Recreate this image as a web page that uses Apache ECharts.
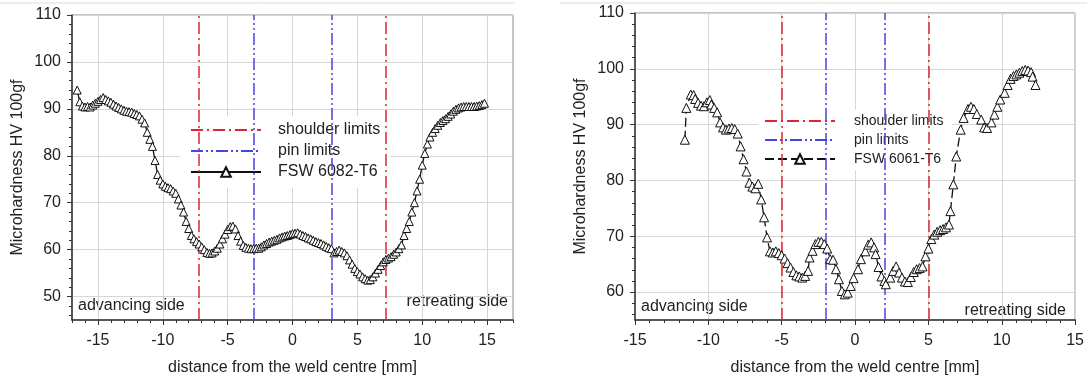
<!DOCTYPE html>
<html><head><meta charset="utf-8">
<script src="https://cdn.jsdelivr.net/npm/echarts@6/dist/echarts.min.js"></script>
<style>html,body{margin:0;padding:0;background:#fff}#c{width:1087px;height:381px}</style>
</head><body><div id="c"></div>
<script>
// ---- data ----
const xTicks = [-15, -10, -5, 0, 5, 10, 15];
const leftYTicks = [50, 60, 70, 80, 90, 100, 110];
const rightYTicks = [60, 70, 80, 90, 100, 110];
const leftShoulder = [-7.2, 7.2];
const leftPin = [-3, 3];
const rightShoulder = [-5, 5];
const rightPin = [-2, 2];
const leftName = 'FSW 6082-T6';
const rightName = 'FSW 6061-T6';
const leftDist = [-16.6,-16.4,-16.2,-16.0,-15.8,-15.6,-15.4,-15.2,-15.0,-14.8,-14.6,-14.4,-14.2,-14.0,-13.8,-13.6,-13.4,-13.2,-13.0,-12.8,-12.6,-12.4,-12.2,-12.0,-11.8,-11.6,-11.4,-11.2,-11.0,-10.8,-10.6,-10.4,-10.2,-10.0,-9.8,-9.6,-9.4,-9.2,-9.0,-8.8,-8.6,-8.4,-8.2,-8.0,-7.8,-7.6,-7.4,-7.2,-7.0,-6.8,-6.6,-6.4,-6.2,-6.0,-5.8,-5.6,-5.4,-5.2,-5.0,-4.8,-4.6,-4.4,-4.2,-4.0,-3.8,-3.6,-3.4,-3.2,-3.0,-2.8,-2.6,-2.4,-2.2,-2.0,-1.8,-1.6,-1.4,-1.2,-1.0,-0.8,-0.6,-0.4,-0.2,0.0,0.2,0.4,0.6,0.8,1.0,1.2,1.4,1.6,1.8,2.0,2.2,2.4,2.6,2.8,3.0,3.2,3.4,3.6,3.8,4.0,4.2,4.4,4.6,4.8,5.0,5.2,5.4,5.6,5.8,6.0,6.2,6.4,6.6,6.8,7.0,7.2,7.4,7.6,7.8,8.0,8.2,8.4,8.6,8.8,9.0,9.2,9.4,9.6,9.8,10.0,10.2,10.4,10.6,10.8,11.0,11.2,11.4,11.6,11.8,12.0,12.2,12.4,12.6,12.8,13.0,13.2,13.4,13.6,13.8,14.0,14.2,14.4,14.6,14.8];
const leftHV = [94.0,91.5,90.6,90.4,90.5,90.4,90.8,91.2,91.6,92.0,92.4,92.0,91.7,91.4,91.0,90.6,90.3,90.0,89.7,89.5,89.4,89.3,89.0,88.8,88.5,87.8,87.0,85.0,83.5,82.0,79.0,76.0,74.8,74.0,73.5,73.2,73.0,72.5,72.0,70.8,69.5,68.0,66.0,64.5,63.0,62.3,61.7,61.2,60.6,60.0,59.4,59.2,59.3,59.7,60.3,61.2,62.3,63.3,64.3,64.9,65.0,64.4,63.0,61.8,60.9,60.5,60.3,60.2,60.2,60.3,60.3,60.6,61.0,61.3,61.6,61.8,62.0,62.2,62.5,62.7,62.9,63.0,63.2,63.4,63.5,63.6,63.3,63.0,62.8,62.5,62.3,62.0,61.7,61.5,61.3,61.0,60.7,60.4,60.2,59.3,59.6,59.9,59.6,59.3,58.7,57.8,56.9,56.0,55.3,54.8,54.2,53.8,53.5,53.6,54.2,55.0,55.8,56.6,57.4,57.9,58.2,58.5,59.0,59.5,60.2,61.0,63.0,64.5,66.0,68.0,70.0,72.5,75.0,78.0,80.5,82.5,84.0,85.0,85.8,86.5,87.1,87.5,87.9,88.4,88.9,89.5,89.9,90.2,90.4,90.5,90.5,90.5,90.5,90.5,90.6,90.7,90.9,91.2];
const rightDist = [-11.6,-11.5,-11.2,-11.0,-10.9,-10.7,-10.5,-10.3,-10.1,-9.9,-9.8,-9.6,-9.4,-9.2,-9.0,-8.8,-8.6,-8.4,-8.2,-8.0,-7.8,-7.6,-7.4,-7.2,-7.0,-6.8,-6.6,-6.4,-6.2,-6.0,-5.8,-5.6,-5.4,-5.2,-5.0,-4.8,-4.6,-4.4,-4.2,-4.0,-3.8,-3.6,-3.4,-3.2,-3.1,-2.9,-2.7,-2.5,-2.3,-2.1,-1.9,-1.7,-1.5,-1.3,-1.1,-0.9,-0.7,-0.5,-0.3,-0.1,0.2,0.4,0.7,0.9,1.1,1.3,1.4,1.6,1.8,2.0,2.1,2.4,2.6,2.8,3.0,3.2,3.4,3.6,3.8,4.0,4.2,4.4,4.6,4.8,5.0,5.2,5.4,5.6,5.8,6.0,6.2,6.4,6.5,6.7,6.9,7.2,7.4,7.7,7.9,8.1,8.3,8.6,8.8,9.0,9.3,9.5,9.7,9.9,10.2,10.4,10.6,10.8,11.0,11.2,11.4,11.6,11.8,12.0,12.1,12.3];
const rightHV = [87.3,93.0,95.4,95.3,94.6,93.9,93.4,93.3,94.0,94.4,93.6,93.0,92.2,90.4,89.5,89.1,89.3,89.4,89.2,88.4,86.1,83.8,81.6,79.6,78.9,78.6,79.4,76.6,73.4,69.8,67.3,67.1,67.3,67.0,66.6,66.0,65.2,64.4,63.6,63.0,62.8,62.6,62.9,63.8,66.2,67.4,68.6,69.0,69.0,68.6,67.8,65.9,65.8,64.1,62.3,60.2,59.6,59.9,61.1,62.5,64.1,65.9,67.3,68.5,68.9,68.0,66.8,64.5,62.8,62.0,61.4,62.6,63.8,64.6,63.5,62.6,61.9,61.8,62.7,63.6,64.1,64.3,64.6,66.4,67.8,69.5,70.3,70.8,71.1,71.3,71.6,72.1,74.5,79.3,84.3,89.1,91.2,92.8,93.2,92.8,91.9,90.9,89.5,89.4,90.4,91.8,93.2,94.5,95.7,97.1,98.2,98.7,99.0,99.3,99.6,99.8,99.7,99.4,98.6,97.1];

// ---- helpers ----
const range = (a, b, s) => { const r = []; for (let v = a; v <= b + 1e-9; v += s) r.push(+v.toFixed(3)); return r; };
const zip = (xs, ys) => xs.map((x, i) => [x, ys[i]]);
const FONT = 'Liberation Sans, Arial, sans-serif';
const TXT = '#222';
const RED = '#e0262c', BLUE = '#4646e0';
const redDash = [12, 4, 2, 4];
const blueDash = [12, 3, 2, 3, 2, 3];
const hiddenSym = { color: 'rgba(0,0,0,0)', borderWidth: 0, opacity: 0 };

function mainX(grid, min, max) {
  return {
    type: 'value', gridIndex: grid, min, max, position: 'bottom',
    name: 'distance from the weld centre [mm]', nameLocation: 'middle', nameGap: 40,
    nameTextStyle: { fontFamily: FONT, fontSize: 16, color: TXT },
    axisLine: { show: true, onZero: false, lineStyle: { color: '#333', width: 1.5 } },
    axisTick: { show: true, length: 5, customValues: xTicks, lineStyle: { color: '#333' } },
    axisLabel: { customValues: xTicks, fontFamily: FONT, fontSize: 16, color: TXT, margin: 13 },
    splitLine: { show: true, lineStyle: { color: '#d6d6d6', width: 1 } }
  };
}
function minorX(grid, min, max) {
  return {
    type: 'value', gridIndex: grid, min, max, position: 'bottom',
    axisLine: { show: false, onZero: false },
    axisTick: { show: true, length: 3, customValues: range(Math.ceil(min), max, 1), lineStyle: { color: '#333' } },
    axisLabel: { show: false }, splitLine: { show: false }
  };
}
function mainY(grid, min, max, ticks) {
  return {
    type: 'value', gridIndex: grid, min, max, position: 'left',
    name: 'Microhardness HV 100gf', nameLocation: 'middle', nameGap: 46,
    nameTextStyle: { fontFamily: FONT, fontSize: 16, color: TXT },
    axisLine: { show: true, onZero: false, lineStyle: { color: '#333', width: 1.5 } },
    axisTick: { show: true, length: 5, customValues: ticks, lineStyle: { color: '#333' } },
    axisLabel: { customValues: ticks, fontFamily: FONT, fontSize: 16, color: TXT, margin: 11 },
    splitLine: { show: true, lineStyle: { color: '#d6d6d6', width: 1 } }
  };
}
function minorY(grid, min, max) {
  return {
    type: 'value', gridIndex: grid, min, max, position: 'left',
    axisLine: { show: false, onZero: false },
    axisTick: { show: true, length: 3, customValues: range(min % 2 === 0 ? min : min + 1, max, 2), lineStyle: { color: '#333' } },
    axisLabel: { show: false }, splitLine: { show: false }
  };
}
function limitSeries(name, xi, yi, vals, color, dash) {
  return {
    name, type: 'line', xAxisIndex: xi, yAxisIndex: yi, data: [], symbol: 'none',
    lineStyle: { color, width: 1.5, type: dash }, itemStyle: { color },
    markLine: {
      silent: true, symbol: ['none', 'none'], label: { show: false },
      lineStyle: { color, width: 1.5, type: dash }, animation: false,
      data: vals.map(v => ({ xAxis: v }))
    }, z: 3
  };
}
function dataSeries(name, xi, yi, xs, ys, dash, size) {
  return {
    name, type: 'line', xAxisIndex: xi, yAxisIndex: yi, data: zip(xs, ys),
    symbol: 'triangle', symbolSize: size, showAllSymbol: true,
    itemStyle: { color: '#fff', borderColor: '#111', borderWidth: 1 },
    lineStyle: { color: '#111', width: 1.3, type: dash }, z: 5
  };
}

const chart = echarts.init(document.getElementById('c'), null, { renderer: 'canvas' });
chart.setOption({
  animation: false,
  backgroundColor: '#fff',
  grid: [
    { left: 72, top: 15, width: 441, height: 308, show: true, borderColor: '#8a8a8a', borderWidth: 1, containLabel: false },
    { left: 635, top: 13, width: 442, height: 310, show: true, borderColor: '#8a8a8a', borderWidth: 1, containLabel: false }
  ],
  xAxis: [mainX(0, -17, 17), minorX(0, -17, 17), mainX(1, -15, 15), minorX(1, -15, 15)],
  yAxis: [mainY(0, 45, 110, leftYTicks), minorY(0, 45, 110), mainY(1, 55, 110, rightYTicks), minorY(1, 55, 110)],
  legend: [
    { orient: 'vertical', left: 180, top: 116, backgroundColor: '#fff', padding: [6, 10, 8, 10],
      itemWidth: 70, itemHeight: 12, itemGap: 5, selectedMode: false,
      textStyle: { fontFamily: FONT, fontSize: 16, color: TXT, padding: [0, 0, 0, 12] },
      data: [{ name: 'shoulder limits', itemStyle: hiddenSym }, { name: 'pin limits', itemStyle: hiddenSym }, leftName] },
    { orient: 'vertical', left: 758, top: 110, backgroundColor: '#fff', padding: [4, 8, 4, 6],
      itemWidth: 70, itemHeight: 12, itemGap: 5, selectedMode: false,
      textStyle: { fontFamily: FONT, fontSize: 14, color: TXT, padding: [0, 0, 0, 14] },
      data: [{ name: 'shoulder limits', itemStyle: hiddenSym }, { name: 'pin limits', itemStyle: hiddenSym }, rightName] }
  ],
  series: [
    limitSeries('shoulder limits', 0, 0, leftShoulder, RED, redDash),
    limitSeries('pin limits', 0, 0, leftPin, BLUE, blueDash),
    dataSeries(leftName, 0, 0, leftDist, leftHV, 'solid', 8),
    limitSeries('shoulder limits', 2, 2, rightShoulder, RED, redDash),
    limitSeries('pin limits', 2, 2, rightPin, BLUE, blueDash),
    dataSeries(rightName, 2, 2, rightDist, rightHV, [9, 4], 9)
  ],
  graphic: [
    { type: 'line', shape: { x1: 0, y1: 3, x2: 515, y2: 3 }, style: { stroke: '#dcdcdc', lineWidth: 1 } },
    { type: 'line', shape: { x1: 560, y1: 3, x2: 1087, y2: 3 }, style: { stroke: '#dcdcdc', lineWidth: 1 } },
    { type: 'text', left: 78, top: 298, style: { text: 'advancing side', font: '16px ' + FONT, fill: TXT } },
    { type: 'text', right: 1087 - 508, top: 294, style: { text: 'retreating side', font: '16px ' + FONT, fill: TXT } },
    { type: 'text', left: 641, top: 299, style: { text: 'advancing side', font: '16px ' + FONT, fill: TXT } },
    { type: 'text', right: 1087 - 1066, top: 303, style: { text: 'retreating side', font: '16px ' + FONT, fill: TXT } }
  ]
});
</script>
</body></html>
